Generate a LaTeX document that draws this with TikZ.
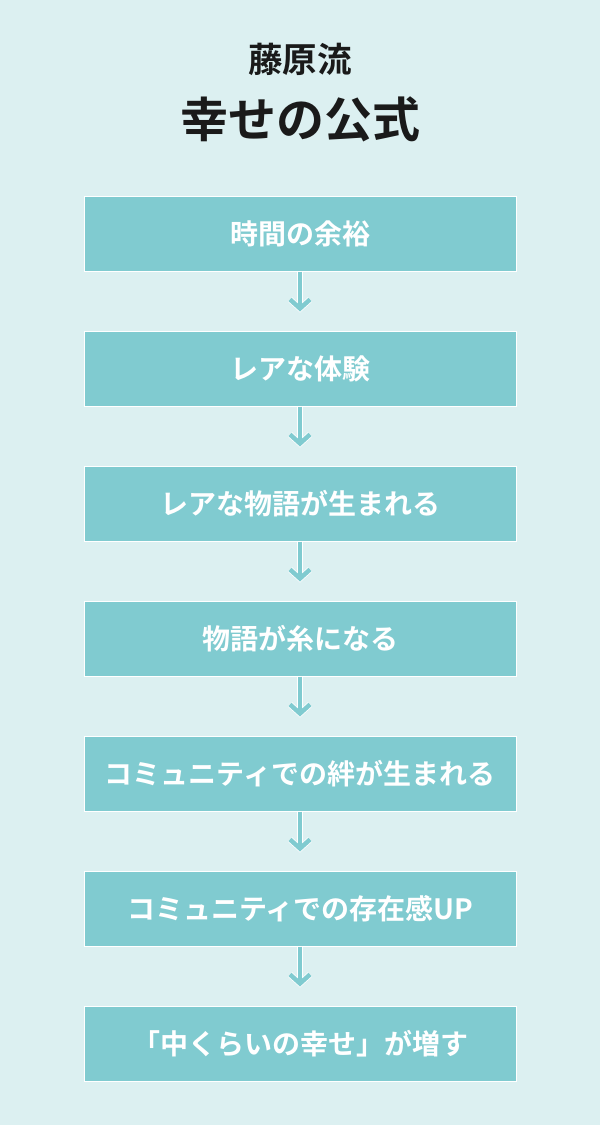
\documentclass[tikz,border=0pt]{standalone}
\usepackage{fontspec}
\newfontfamily\jpfont{Noto Sans CJK JP}[BoldFont={Noto Sans CJK JP Bold}]
\usetikzlibrary{arrows.meta}
\definecolor{bgcol}{HTML}{DCF0F1}
\definecolor{boxcol}{HTML}{80CBD0}
\definecolor{titlecol}{HTML}{1A1A1A}
\tikzset{
  stepbox/.style={draw=white, line width=1pt, fill=boxcol, minimum width=432pt, minimum height=75pt,
    text=white, font=\jpfont\bfseries\fontsize{28}{32}\selectfont},
  flow/.style={draw=boxcol, line width=4pt, shorten >=19pt,
    -{Straight Barb[length=9pt,width=20pt,line width=4.5pt]},
    preaction={draw=white, line width=5.5pt, shorten >=18pt, -{Straight Barb[length=9pt,width=20pt,line width=6pt]}}}
}
\begin{document}
\begin{tikzpicture}[x=1pt,y=-1pt]
  \fill[bgcol] (0,0) rectangle (600,1125);
  \useasboundingbox (0,0) rectangle (600,1125);

  \node[titlecol, font=\jpfont\bfseries\fontsize{34.5}{38}\selectfont] (sub) at (300,59) {藤原流};
  \node[titlecol, font=\jpfont\bfseries\fontsize{48}{52}\selectfont] (title) at (300,119) {幸せの公式};

  \node[stepbox] (b1) at (300,233.5) {時間の余裕};
  \node[stepbox] (b2) at (300,368.5) {レアな体験};
  \node[stepbox] (b3) at (300,503.5) {レアな物語が生まれる};
  \node[stepbox] (b4) at (300,638.5) {物語が糸になる};
  \node[stepbox] (b5) at (300,773.5) {コミュニティでの絆が生まれる};
  \node[stepbox] (b6) at (300,908.5) {コミュニティでの存在感UP};
  \node[stepbox] (b7) at (300,1043.5) {「中くらいの幸せ」が増す};

  \draw[flow] (b1.south) -- (b2.north);
  \draw[flow] (b2.south) -- (b3.north);
  \draw[flow] (b3.south) -- (b4.north);
  \draw[flow] (b4.south) -- (b5.north);
  \draw[flow] (b5.south) -- (b6.north);
  \draw[flow] (b6.south) -- (b7.north);
\end{tikzpicture}
\end{document}
